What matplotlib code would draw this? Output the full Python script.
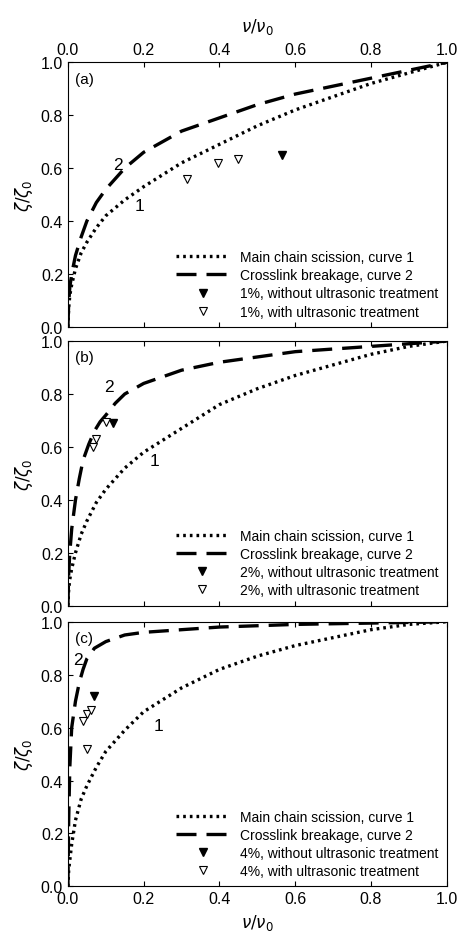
import matplotlib
matplotlib.use("Agg")
import matplotlib.pyplot as plt

plt.rcParams['font.family'] = ['Liberation Sans', 'DejaVu Sans']

# Panel (a)
a_c1_x = [0, 0.002, 0.005, 0.01, 0.02, 0.035, 0.05, 0.075, 0.1, 0.15, 0.2, 0.3, 0.4, 0.5, 0.6, 0.7, 0.8, 0.9, 1.0]
a_c1_y = [0, 0.07, 0.12, 0.16, 0.22, 0.28, 0.32, 0.375, 0.42, 0.48, 0.53, 0.62, 0.69, 0.76, 0.82, 0.87, 0.92, 0.96, 1.0]
a_c2_x = [0, 0.002, 0.005, 0.01, 0.02, 0.035, 0.05, 0.075, 0.1, 0.15, 0.2, 0.3, 0.4, 0.5, 0.6, 0.7, 0.8, 0.9, 1.0]
a_c2_y = [0, 0.09, 0.15, 0.20, 0.27, 0.34, 0.40, 0.47, 0.52, 0.60, 0.66, 0.74, 0.79, 0.84, 0.88, 0.91, 0.94, 0.97, 1.0]
a_fill_x = [0.565]; a_fill_y = [0.65]
a_open_x = [0.315, 0.395, 0.45]; a_open_y = [0.56, 0.62, 0.635]

# Panel (b)
b_c1_x = [0, 0.002, 0.005, 0.01, 0.02, 0.035, 0.05, 0.075, 0.1, 0.15, 0.2, 0.3, 0.4, 0.5, 0.6, 0.7, 0.8, 0.9, 1.0]
b_c1_y = [0, 0.06, 0.10, 0.14, 0.20, 0.27, 0.32, 0.39, 0.44, 0.52, 0.58, 0.67, 0.76, 0.82, 0.87, 0.91, 0.95, 0.98, 1.0]
b_c2_x = [0, 0.002, 0.005, 0.01, 0.02, 0.03, 0.04, 0.055, 0.07, 0.085, 0.1, 0.125, 0.15, 0.2, 0.3, 0.4, 0.5, 0.6, 0.7, 0.8, 0.9, 1.0]
b_c2_y = [0, 0.12, 0.20, 0.29, 0.40, 0.48, 0.55, 0.61, 0.66, 0.695, 0.72, 0.765, 0.80, 0.84, 0.89, 0.92, 0.94, 0.96, 0.97, 0.98, 0.99, 1.0]
b_fill_x = [0.12]; b_fill_y = [0.69]
b_open_x = [0.065, 0.075, 0.10]; b_open_y = [0.60, 0.63, 0.695]

# Panel (c)
c_c1_x = [0, 0.002, 0.005, 0.01, 0.02, 0.035, 0.05, 0.075, 0.1, 0.15, 0.2, 0.3, 0.4, 0.5, 0.6, 0.7, 0.8, 0.9, 1.0]
c_c1_y = [0, 0.06, 0.10, 0.16, 0.25, 0.33, 0.38, 0.45, 0.51, 0.59, 0.66, 0.75, 0.82, 0.87, 0.91, 0.94, 0.97, 0.99, 1.0]
c_c2_x = [0, 0.002, 0.005, 0.01, 0.02, 0.03, 0.04, 0.05, 0.07, 0.1, 0.15, 0.2, 0.3, 0.4, 0.6, 0.8, 1.0]
c_c2_y = [0, 0.25, 0.45, 0.60, 0.70, 0.77, 0.82, 0.86, 0.90, 0.925, 0.95, 0.96, 0.97, 0.98, 0.99, 0.995, 1.0]
c_fill_x = [0.07]; c_fill_y = [0.72]
c_open_x = [0.04, 0.05, 0.06, 0.05]; c_open_y = [0.625, 0.65, 0.665, 0.52]

panels = [
    ("(a)", "1%", a_c1_x, a_c1_y, a_c2_x, a_c2_y, a_fill_x, a_fill_y, a_open_x, a_open_y, (0.175, 0.44), (0.12, 0.595)),
    ("(b)", "2%", b_c1_x, b_c1_y, b_c2_x, b_c2_y, b_fill_x, b_fill_y, b_open_x, b_open_y, (0.215, 0.53), (0.095, 0.81)),
    ("(c)", "4%", c_c1_x, c_c1_y, c_c2_x, c_c2_y, c_fill_x, c_fill_y, c_open_x, c_open_y, (0.225, 0.59), (0.015, 0.84)),
]

fig = plt.figure(figsize=(4.62, 9.45), dpi=100)
bottoms = [0.653, 0.358, 0.061]
ticks = [0, 0.2, 0.4, 0.6, 0.8, 1.0]
for i, (lab, pct, x1, y1, x2, y2, fx, fy, ox, oy, p1, p2) in enumerate(panels):
    ax = fig.add_axes([0.147, bottoms[i], 0.820, 0.280])
    ax.plot(x1, y1, linestyle=(0, (0.8, 1.2)), color='black', lw=2.4, label='Main chain scission, curve 1')
    ax.plot(x2, y2, linestyle=(0, (6, 3)), color='black', lw=2.4, label='Crosslink breakage, curve 2')
    ax.plot(fx, fy, 'v', color='black', ms=6, ls='none', label=f'{pct}, without ultrasonic treatment')
    ax.plot(ox, oy, 'v', mfc='white', mec='black', ms=6, mew=0.8, ls='none', label=f'{pct}, with ultrasonic treatment')
    ax.set_xlim(0, 1); ax.set_ylim(0, 1)
    ax.set_xticks(ticks); ax.set_yticks(ticks)
    ax.tick_params(direction='in', labelsize=11.5, top=True, labeltop=(i == 0), labelbottom=(i == 2))
    ax.set_yticklabels([f"{t:.1f}" for t in ticks])
    if i in (0, 2):
        ax.set_xticklabels([f"{t:.1f}" for t in ticks])
    ax.text(0.02, 0.965, lab, transform=ax.transAxes, fontsize=11, va='top')
    ax.text(p1[0], p1[1], "1", fontsize=12.5)
    ax.text(p2[0], p2[1], "2", fontsize=12.5)
    ax.set_ylabel(r"$\zeta/\zeta_0$", fontsize=12)
    ax.legend(loc='lower right', frameon=False, fontsize=10, handlelength=3.8,
              labelspacing=0.3, borderaxespad=0.2, handletextpad=0.8)
    if i == 0:
        ax.xaxis.set_label_position('top')
        ax.set_xlabel(r"$\nu/\nu_0$", fontsize=12, labelpad=8)
    if i == 2:
        ax.set_xlabel(r"$\nu/\nu_0$", fontsize=12)
fig.savefig("out.png", dpi=100)
